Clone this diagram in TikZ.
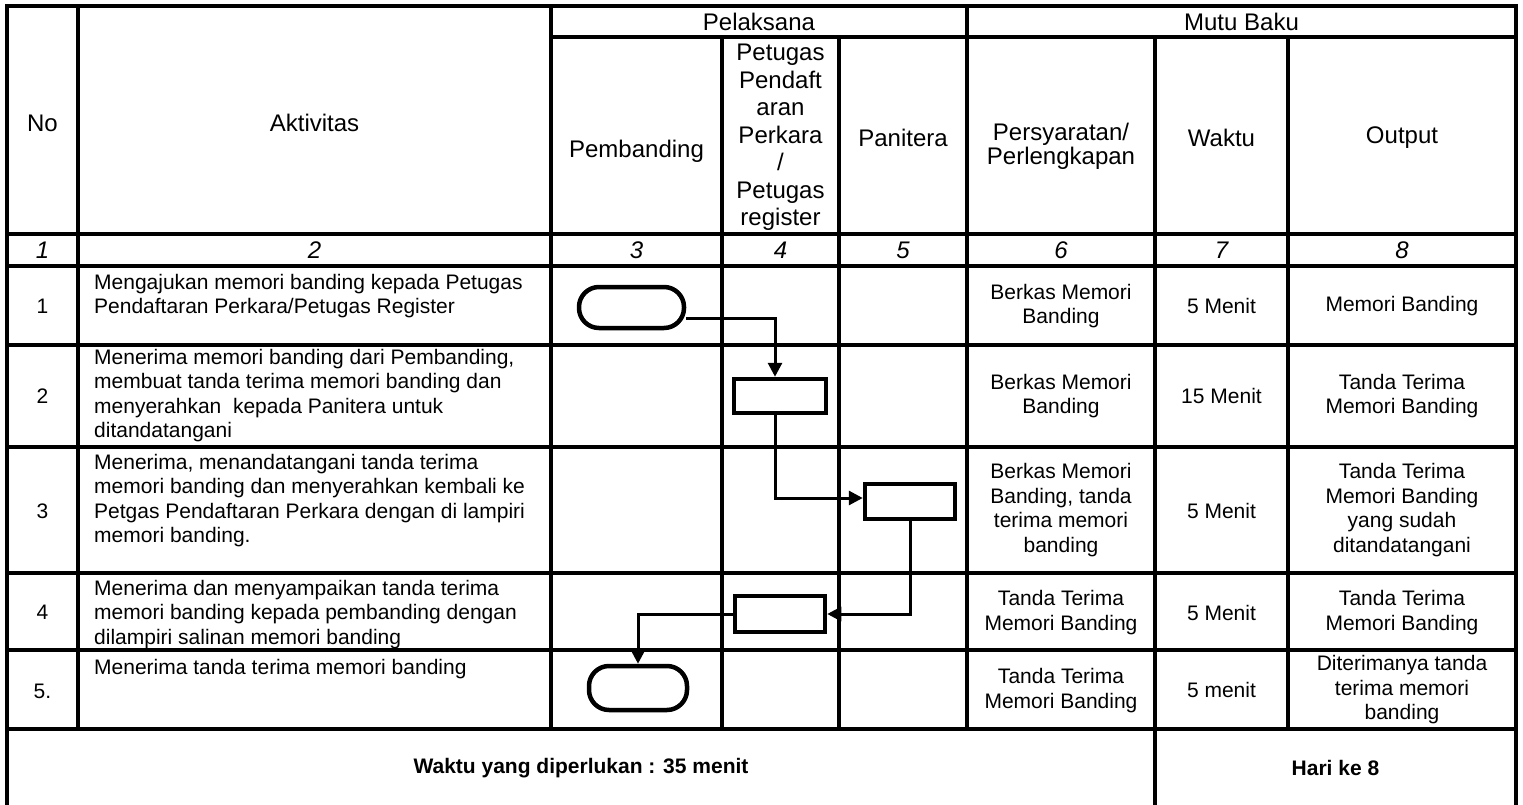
\documentclass[tikz,border=0pt]{standalone}
\usepackage{fontspec}
\setmainfont{Liberation Sans}
\usetikzlibrary{arrows.meta,calc}
\begin{document}
\begin{tikzpicture}[x=1pt,y=-1pt,
 grid/.style={line width=4pt},
 arr/.style={line width=3pt,-{Triangle[length=14pt,width=14pt]}},
 term/.style={draw,line width=4.5pt,rounded corners=20pt,inner sep=0pt},
 proc/.style={draw,line width=4.5pt,inner sep=0pt},
 hd/.style={font=\fontsize{24}{27.5}\selectfont,align=center,inner sep=0pt},
 bd/.style={font=\fontsize{21}{24.5}\selectfont,align=center,inner sep=0pt},
 act/.style={font=\fontsize{21}{24.5}\selectfont,align=left,inner sep=0pt,anchor=north west},
 num/.style={font=\fontsize{24}{27.5}\selectfont\itshape,inner sep=0pt},
 ft/.style={font=\fontsize{21}{24.5}\selectfont\bfseries,inner sep=0pt}
]
\useasboundingbox (0,0) rectangle (1523,805);
% grid
\draw[grid] (7,805) -- (7,6) -- (1516,6) -- (1516,805);
\draw[grid] (551,37) -- (1516,37);
\foreach \yy in {234,266,345,447,573,650,729} \draw[grid] (7,\yy) -- (1516,\yy);
\foreach \xx in {78,551,967} \draw[grid] (\xx,6) -- (\xx,729);
\foreach \xx in {722,839,1288} \draw[grid] (\xx,37) -- (\xx,729);
\draw[grid] (1155,37) -- (1155,805);
% header
\node[hd] (hno) at (42.5,123) {No};
\node[hd] (hakt) at (314.5,123) {Aktivitas};
\node[hd] (hpel) at (759,22) {Pelaksana};
\node[hd] (hmutu) at (1241.5,22) {Mutu Baku};
\node[hd] (hpemb) at (636.5,151) {Pembanding};
\node[hd] (hpet) at (780.5,137.5) {Petugas\\Pendaft\\aran\\Perkara\\/\\Petugas\\register};
\node[hd] (hpan) at (903,138) {Panitera};
\node[hd,font=\fontsize{24}{24}\selectfont] (hpers) at (1061,146) {Persyaratan/\\Perlengkapan};
\node[hd] (hwak) at (1221.5,138) {Waktu};
\node[hd] (hout) at (1402,138) {Output};
% numbers
\node[num] (n1) at (42.5,250) {1};
\node[num] (n2) at (314.5,250) {2};
\node[num] (n3) at (636.5,250) {3};
\node[num] (n4) at (780.5,250) {4};
\node[num] (n5) at (903,250) {5};
\node[num] (n6) at (1061,250) {6};
\node[num] (n7) at (1221.5,250) {7};
\node[num] (n8) at (1402,250) {8};
% row numbers
\node[bd] (r1) at (42.5,306) {1};
\node[bd] (r2) at (42.5,396) {2};
\node[bd] (r3) at (42.5,511) {3};
\node[bd] (r4) at (42.5,612) {4};
\node[bd] (r5) at (42.5,691) {5.};
% activities
\node[act] (a1) at (94,274) {Mengajukan memori banding kepada Petugas\\Pendaftaran Perkara/Petugas Register};
\node[act] (a2) at (94,349) {Menerima memori banding dari Pembanding,\\membuat tanda terima memori banding dan\\menyerahkan\ \ kepada Panitera untuk\\ditandatangani};
\node[act] (a3) at (94,454) {Menerima, menandatangani tanda terima\\memori banding dan menyerahkan kembali ke\\Petgas Pendaftaran Perkara dengan di lampiri\\memori banding.};
\node[act] (a4) at (94,580) {Menerima dan menyampaikan tanda terima\\memori banding kepada pembanding dengan\\dilampiri salinan memori banding};
\node[act] (a5) at (94,659) {Menerima tanda terima memori banding};
% persyaratan
\node[bd] (p1) at (1061,306) {Berkas Memori\\Banding};
\node[bd] (p2) at (1061,396) {Berkas Memori\\Banding};
\node[bd] (p3) at (1061,510) {Berkas Memori\\Banding, tanda\\terima memori\\banding};
\node[bd] (p4) at (1061,612.5) {Tanda Terima\\Memori Banding};
\node[bd] (p5) at (1061,690.5) {Tanda Terima\\Memori Banding};
% waktu
\node[bd] (w1) at (1221.5,306) {5 Menit};
\node[bd] (w2) at (1221.5,396) {15 Menit};
\node[bd] (w3) at (1221.5,511) {5 Menit};
\node[bd] (w4) at (1221.5,613) {5 Menit};
\node[bd] (w5) at (1221.5,690) {5 menit};
% output
\node[bd] (o1) at (1402,306) {Memori Banding};
\node[bd] (o2) at (1402,396) {Tanda Terima\\Memori Banding};
\node[bd] (o3) at (1402,510) {Tanda Terima\\Memori Banding\\yang sudah\\ditandatangani};
\node[bd] (o4) at (1402,612.5) {Tanda Terima\\Memori Banding};
\node[bd] (o5) at (1402,690) {Diterimanya tanda\\terima memori\\banding};
% footer
\node[ft] (f1) at (581,768) {Waktu yang diperlukan : 35 menit};
\node[ft] (f2) at (1335.5,768) {Hari ke 8};
% flow shapes
\node[term,minimum width=105pt,minimum height=41pt] (t1) at (631.5,307.5) {};
\node[proc,minimum width=92pt,minimum height=34pt] (b2) at (780,396) {};
\node[proc,minimum width=90pt,minimum height=35pt] (b3) at (910,501.5) {};
\node[proc,minimum width=90pt,minimum height=36pt] (b4) at (780,614) {};
\node[term,minimum width=98pt,minimum height=44pt] (t5) at (638,688) {};
% connectors
\draw[arr] ([yshift=-10.5pt]t1.east) -| ([xshift=-5pt]b2.north);
\draw[arr] ([xshift=-5pt]b2.south) |- ([yshift=3.5pt]b3.west);
\draw[arr] (b3.south) |- (b4.east);
\draw[arr] (b4.west) -| (t5.north);
\end{tikzpicture}
\end{document}
